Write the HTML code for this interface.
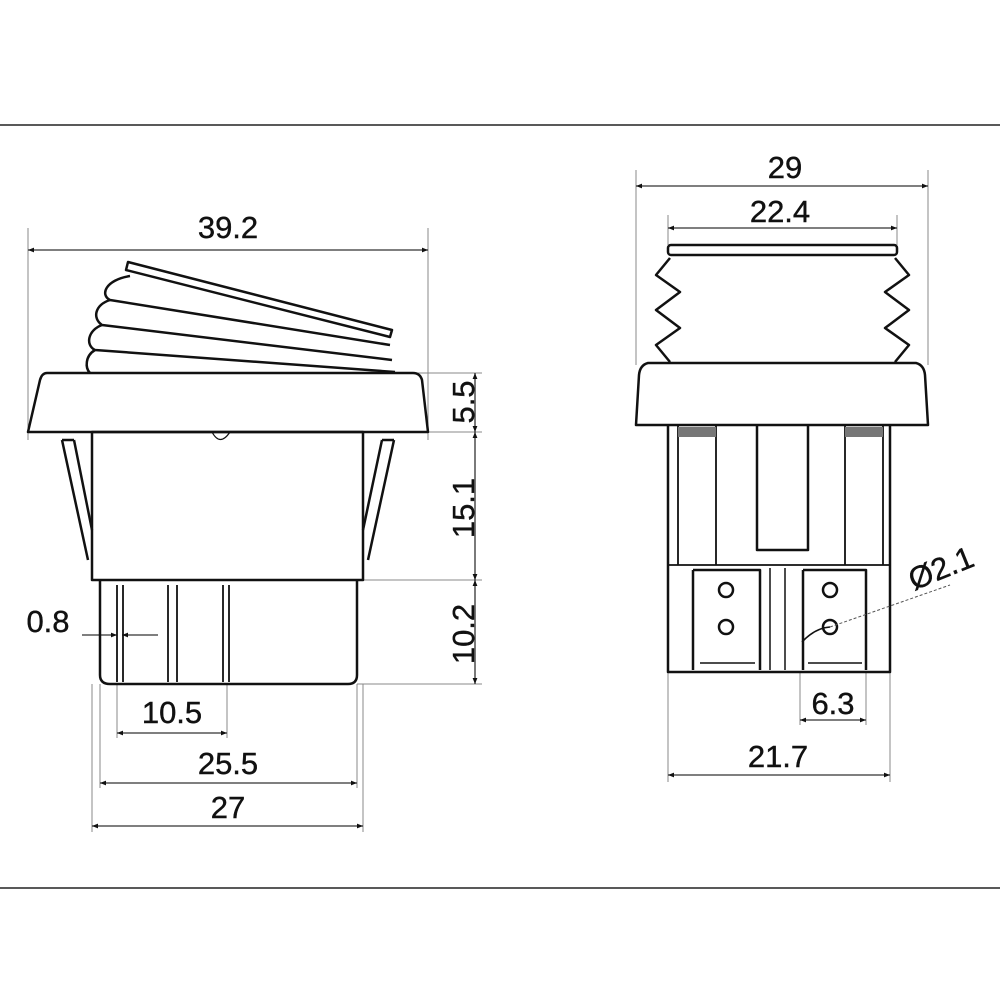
<!DOCTYPE html>
<html><head><style>body{margin:0;background:#fff}svg{display:block}text{font-family:"Liberation Sans",sans-serif;font-size:31px;fill:#111;stroke:#111;stroke-width:0.4}</style></head><body>
<svg width="1000" height="1000" viewBox="0 0 1000 1000" xmlns="http://www.w3.org/2000/svg">
<defs><marker id="a" viewBox="0 0 10 10" refX="10" refY="5" markerWidth="16" markerHeight="6" orient="auto-start-reverse" markerUnits="userSpaceOnUse"><path d="M0,1 L10,5 L0,9z" fill="#111"/></marker></defs>
<line x1="0" y1="125" x2="1000" y2="125" stroke="#222" stroke-width="1.5"/>
<line x1="0" y1="888" x2="1000" y2="888" stroke="#222" stroke-width="1.5"/>
<g stroke="#888" stroke-width="1" fill="none">
<line x1="28" y1="228" x2="28" y2="440"/><line x1="428" y1="228" x2="428" y2="440"/>
<line x1="415" y1="373" x2="482" y2="373"/><line x1="428" y1="432" x2="482" y2="432"/>
<line x1="363" y1="580" x2="482" y2="580"/><line x1="357" y1="684" x2="482" y2="684"/>
<line x1="92" y1="684" x2="92" y2="832"/><line x1="363" y1="684" x2="363" y2="832"/>
<line x1="100" y1="684" x2="100" y2="788"/><line x1="357" y1="684" x2="357" y2="788"/>
<line x1="117" y1="684" x2="117" y2="738"/><line x1="227" y1="684" x2="227" y2="738"/>
<line x1="636" y1="170" x2="636" y2="365"/><line x1="928" y1="170" x2="928" y2="365"/>
<line x1="668" y1="215" x2="668" y2="245"/><line x1="897" y1="215" x2="897" y2="245"/>
<line x1="668" y1="672" x2="668" y2="782"/><line x1="890" y1="672" x2="890" y2="782"/>
<line x1="800" y1="672" x2="800" y2="725"/><line x1="866" y1="672" x2="866" y2="725"/>
</g>
<g stroke="#333" stroke-width="1.3" fill="none">
<line x1="28" y1="250" x2="428" y2="250" marker-start="url(#a)" marker-end="url(#a)"/>
<line x1="475" y1="373" x2="475" y2="432" marker-start="url(#a)" marker-end="url(#a)"/>
<line x1="475" y1="432" x2="475" y2="580" marker-start="url(#a)" marker-end="url(#a)"/>
<line x1="475" y1="580" x2="475" y2="684" marker-start="url(#a)" marker-end="url(#a)"/>
<line x1="117" y1="733" x2="227" y2="733" marker-start="url(#a)" marker-end="url(#a)"/>
<line x1="100" y1="783" x2="357" y2="783" marker-start="url(#a)" marker-end="url(#a)"/>
<line x1="92" y1="826" x2="363" y2="826" marker-start="url(#a)" marker-end="url(#a)"/>
<line x1="82" y1="635" x2="117" y2="635" marker-end="url(#a)"/><line x1="158" y1="635" x2="122" y2="635" marker-end="url(#a)"/>
<line x1="636" y1="186" x2="928" y2="186" marker-start="url(#a)" marker-end="url(#a)"/>
<line x1="668" y1="228" x2="897" y2="228" marker-start="url(#a)" marker-end="url(#a)"/>
<line x1="800" y1="720" x2="866" y2="720" marker-start="url(#a)" marker-end="url(#a)"/>
<line x1="668" y1="775" x2="890" y2="775" marker-start="url(#a)" marker-end="url(#a)"/>
</g>
<g stroke="#111" stroke-width="2.5" fill="none" stroke-linejoin="round">
<path d="M128,262 L392,330 L390,337 L126,270 Z"/>
<path d="M130,276 C105,280 100,295 110,300 L390,345"/>
<path d="M110,300 C95,305 92,318 102,325 L392,360"/>
<path d="M102,325 C88,330 85,345 95,350 L395,372"/>
<path d="M95,350 C85,356 85,368 90,373"/>
<path d="M47,373 L413,373 Q420,373 422,380 L428,432 L28,432 L40,380 Q42,373 47,373 Z"/>
<rect x="92" y="432" width="271" height="148"/>
<path d="M100,580 L100,675 Q100,684 110,684 L348,684 Q357,684 357,675 L357,580"/>
<path d="M62,440 L88,560 M74,440 L92,530 M62,440 L74,440"/>
<path d="M394,440 L368,560 M382,440 L363,530 M394,440 L382,440"/>
<path d="M212,432 Q220,447 230,432" stroke-width="1.2"/>
<g stroke-width="1.8"><line x1="117" y1="585" x2="117" y2="682"/><line x1="123" y1="585" x2="123" y2="682"/>
<line x1="168" y1="585" x2="168" y2="682"/><line x1="177" y1="585" x2="177" y2="682"/>
<line x1="223" y1="585" x2="223" y2="682"/><line x1="229" y1="585" x2="229" y2="682"/></g>
<rect x="668" y="245" width="229" height="10" rx="3"/>
<path d="M670,258 L656,275 L680,292 L656,310 L680,328 L656,345 L670,362"/>
<path d="M895,258 L909,275 L885,292 L909,310 L885,328 L909,345 L895,362"/>
<path d="M648,363 L916,363 Q924,365 925,375 L928,425 L636,425 L639,375 Q640,365 648,363 Z"/>
<path d="M668,425 L668,672 L890,672 L890,425"/>
<line x1="678" y1="425" x2="678" y2="565" stroke-width="1.8"/><line x1="716" y1="425" x2="716" y2="565" stroke-width="1.8"/>
<line x1="845" y1="425" x2="845" y2="565" stroke-width="1.8"/><line x1="883" y1="425" x2="883" y2="565" stroke-width="1.8"/>
<rect x="678" y="427" width="38" height="10" fill="#777" stroke="none"/><rect x="845" y="427" width="38" height="10" fill="#777" stroke="none"/>
<path d="M757,425 L757,550 L808,550 L808,425"/>
<line x1="668" y1="565" x2="890" y2="565" stroke-width="1.8"/>
<path d="M693,570 L760,570 L760,670 M693,570 L693,670"/>
<path d="M803,570 L866,570 L866,670 M803,570 L803,670"/>
<line x1="770" y1="568" x2="770" y2="670" stroke-width="1.5"/><line x1="785" y1="568" x2="785" y2="670" stroke-width="1.5"/>
<line x1="700" y1="663" x2="755" y2="663" stroke-width="1.5"/><line x1="808" y1="663" x2="862" y2="663" stroke-width="1.5"/>
<circle cx="726" cy="590" r="7"/><circle cx="726" cy="627" r="7"/><circle cx="830" cy="590" r="7"/><circle cx="830" cy="627" r="7"/>
<path d="M802,642 Q815,628 830,627" stroke-width="1.6"/>
</g>
<line x1="830" y1="627" x2="950" y2="585" stroke="#555" stroke-width="1" stroke-dasharray="3,2"/>
<text x="228" y="238" text-anchor="middle">39.2</text>
<text x="172" y="723" text-anchor="middle">10.5</text>
<text x="228" y="774" text-anchor="middle">25.5</text>
<text x="228" y="818" text-anchor="middle">27</text>
<text x="48" y="632" text-anchor="middle">0.8</text>
<text transform="translate(474,402) rotate(-90)" text-anchor="middle">5.5</text>
<text transform="translate(474,508) rotate(-90)" text-anchor="middle">15.1</text>
<text transform="translate(474,634) rotate(-90)" text-anchor="middle">10.2</text>
<text x="785" y="178" text-anchor="middle">29</text>
<text x="780" y="222" text-anchor="middle">22.4</text>
<text x="833" y="714" text-anchor="middle">6.3</text>
<text x="778" y="767" text-anchor="middle">21.7</text>
<text transform="translate(945,578) rotate(-22)" text-anchor="middle">Ø2.1</text>
</svg>
</body></html>
